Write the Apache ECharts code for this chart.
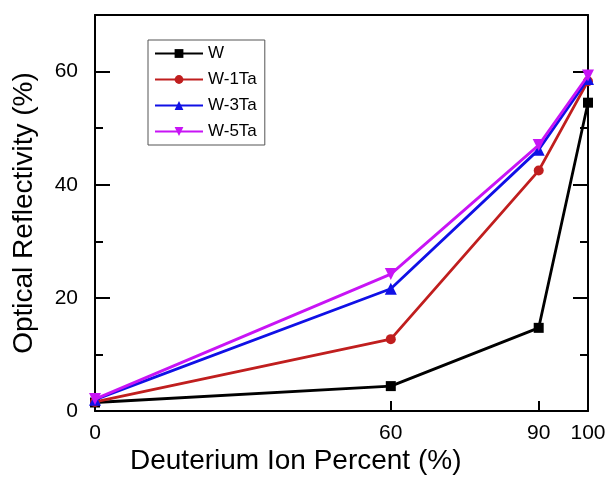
<!DOCTYPE html>
<html>
<head>
<meta charset="utf-8">
<script src="https://cdn.jsdelivr.net/npm/echarts@6/dist/echarts.min.js"></script>
<style>
  html, body { margin: 0; padding: 0; background: #fff; }
  #chart { width: 609px; height: 486px; }
</style>
</head>
<body>
<div id="chart"></div>
<script>
// deuterium ion percent (x) and reflectivity values
var percents = [0, 60, 90, 100]
var seriesNames = ['W', 'W-1Ta', 'W-3Ta', 'W-5Ta']
var valuesW = [1.5, 4.4, 14.7, 54.5]
var values1Ta = [1.6, 12.7, 42.5, 58.3]
var values3Ta = [2.0, 21.6, 46.2, 58.7]
var values5Ta = [2.1, 24.2, 47.0, 59.3]
var xTicks = [0, 60, 90, 100]

var colors = ['#000000', '#c01e1e', '#1010e6', '#c814f5']
var symbols = ['rect', 'circle', 'triangle', 'triangle']
var rotations = [0, 0, 0, 180]
var allValues = [valuesW, values1Ta, values3Ta, values5Ta]

function pairs(vals) {
    return percents.map(function (p, i) { return [p, vals[i]] })
}

var font = 'Liberation Sans, Arial, sans-serif'

var myChart = echarts.init(document.getElementById('chart'))

var series = seriesNames.map(function (name, i) {
    return {
        name: name,
        type: 'line',
        data: pairs(allValues[i]),
        symbol: symbols[i],
        symbolRotate: rotations[i],
        symbolSize: symbols[i] === 'triangle' ? 12 : 10,
        lineStyle: { color: colors[i], width: 2.8 },
        itemStyle: { color: colors[i] },
        z: 2 + i
    }
})

var option = {
    animation: false,
    backgroundColor: '#fff',
    grid: { left: 95, right: 21, top: 15, bottom: 75 },
    legend: {
        orient: 'vertical',
        left: 148,
        top: 40,
        padding: [5, 8, 5, 6],
        itemWidth: 48,
        itemHeight: 11,
        itemGap: 9,
        borderColor: '#555',
        borderWidth: 1,
        textStyle: { fontFamily: font, fontSize: 17, color: '#000' },
        data: seriesNames
    },
    xAxis: [{
        type: 'value',
        min: 0,
        max: 100,
        axisLine: { onZero: false, lineStyle: { color: '#000', width: 2 } },
        axisTick: { show: true, inside: true, length: 10, customValues: xTicks, lineStyle: { color: '#000', width: 2 } },
        axisLabel: { customValues: xTicks, margin: 12, fontFamily: font, fontSize: 21, color: '#000' },
        splitLine: { show: false }
    }, {
        type: 'value',
        position: 'top',
        min: 0,
        max: 100,
        axisLine: { show: true, onZero: false, lineStyle: { color: '#000', width: 2 } },
        axisTick: { show: false },
        axisLabel: { show: false },
        splitLine: { show: false }
    }],
    yAxis: [{
        type: 'value',
        min: 0,
        max: 70,
        interval: 20,
        axisLine: { show: true, onZero: false, lineStyle: { color: '#000', width: 2 } },
        axisTick: { show: true, inside: true, length: 15, lineStyle: { color: '#000', width: 2 } },
        minorTick: { show: true, splitNumber: 2, length: 8, lineStyle: { color: '#000', width: 2 } },
        axisLabel: { margin: 17, fontFamily: font, fontSize: 21, color: '#000',
            formatter: function (v) { return v % 20 === 0 ? v : '' } },
        splitLine: { show: false }
    }, {
        type: 'value',
        position: 'right',
        min: 0,
        max: 70,
        interval: 20,
        axisLine: { show: true, onZero: false, lineStyle: { color: '#000', width: 2 } },
        axisTick: { show: true, inside: true, length: 15, lineStyle: { color: '#000', width: 2 } },
        minorTick: { show: true, splitNumber: 2, length: 8, lineStyle: { color: '#000', width: 2 } },
        axisLabel: { show: false },
        splitLine: { show: false }
    }],
    graphic: [{
        type: 'text',
        left: 130,
        top: 447,
        style: { text: 'Deuterium Ion Percent (%)', font: '28px ' + font, fill: '#000' }
    }, {
        type: 'text',
        x: 24,
        y: 213,
        rotation: Math.PI / 2,
        style: { text: 'Optical Reflectivity (%)', font: '28px ' + font, fill: '#000',
            align: 'center', verticalAlign: 'middle' }
    }],
    series: series
}

myChart.setOption(option)
</script>
</body>
</html>
